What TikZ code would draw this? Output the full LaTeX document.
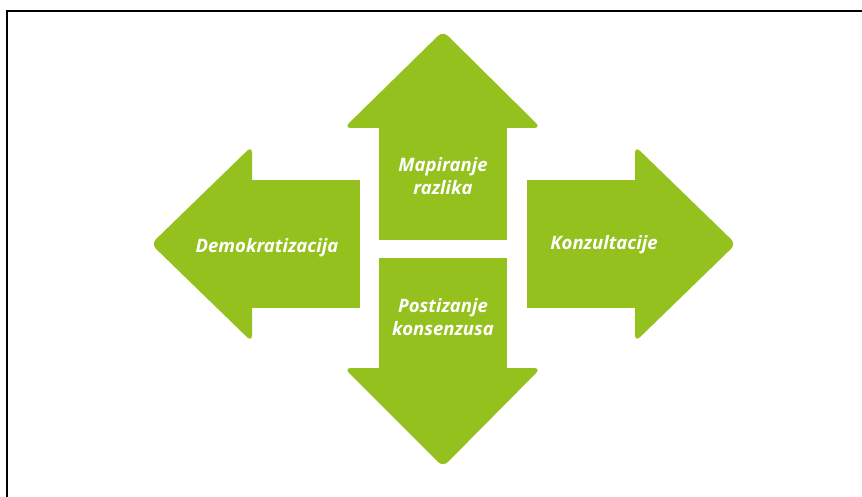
\documentclass[tikz,border=0pt]{standalone}
\usepackage{fontspec}
\setsansfont{Open Sans}
\definecolor{leaf}{HTML}{95C11F}
\begin{document}
\begin{tikzpicture}[x=1pt, y=-1pt,
  shaft/.style={fill=leaf},
  head/.style={fill=leaf, rounded corners=7pt},
  lbl/.style={text=white, font=\sffamily\bfseries\itshape\fontsize{18.5}{23}\selectfont, align=center, inner sep=0pt}
]
  \useasboundingbox (0,0) rectangle (862,497);
  % frame
  \draw[line width=2pt] (7,497) -- (7,11.5) -- (862,11.5);

  % up
  \fill[shaft] (379,240) rectangle (507,126);
  \fill[head] (344,128) -- (443,31) -- (541,128) -- cycle;
  % down
  \fill[shaft] (379,258) rectangle (507,370);
  \fill[head] (344,368) -- (443,467) -- (541,368) -- cycle;
  % left
  \fill[shaft] (250,180) rectangle (360,308);
  \fill[head] (252,146) -- (151,244) -- (252,342) -- cycle;
  % right
  \fill[shaft] (527,180) rectangle (637,308);
  \fill[head] (635,146) -- (736,244) -- (635,342) -- cycle;

  \node[lbl] (map) at (443,176) {Mapiranje\\razlika};
  \node[lbl] (post) at (443,317) {Postizanje\\konsenzusa};
  \node[lbl] (demo) at (267,248) {Demokratizacija};
  \node[lbl] (konz) at (604,245) {Konzultacije};
\end{tikzpicture}
\end{document}
